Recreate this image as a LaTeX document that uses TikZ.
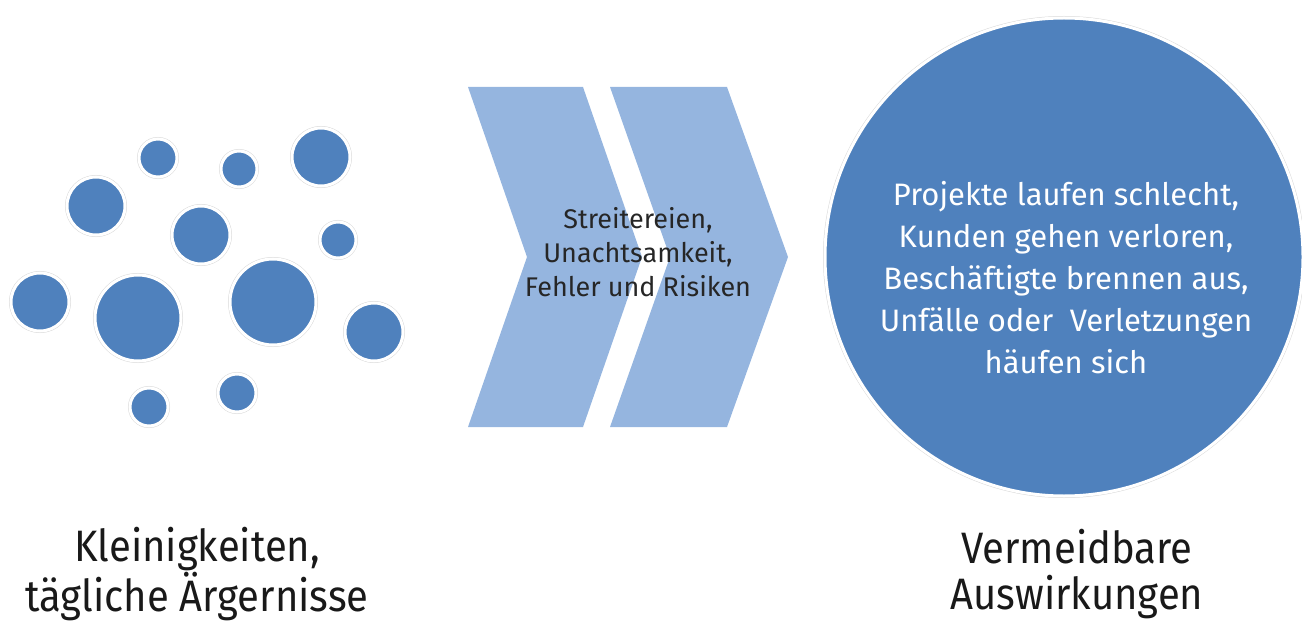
\documentclass[tikz,border=0pt]{standalone}
\usepackage{fontspec}
\setmainfont{Fira Sans}
\newfontfamily\capfont[FakeStretch=0.91]{Fira Sans}
\definecolor{dotblue}{HTML}{4F81BD}
\definecolor{arrowblue}{HTML}{95B5DF}

\begin{document}
\begin{tikzpicture}[x=1pt, y=-1pt,
            every node/.style={inner sep=0pt, text centered}
        ]
        \tikzstyle {bubble} = [circle, fill=dotblue, draw=white, line width=3pt,
            preaction={draw=black!15, line width=4pt}]
        \tikzstyle {chev_text} = [align=center, text=black!85,
            font=\fontsize{27}{34}\selectfont]
        \tikzstyle {big_text} = [align=center, text=white,
            font=\fontsize{31}{42}\selectfont]
        \tikzstyle {caption} = [align=center, text=black!90,
            font=\capfont\fontsize{44}{46}\selectfont]

        \useasboundingbox (0,0) rectangle (1302,623);

        % kleine Kreise
        \node [bubble, minimum size=38] (d1) at (158,158) {};
        \node [bubble, minimum size=36] (d2) at (239,169) {};
        \node [bubble, minimum size=58] (d3) at (321,157) {};
        \node [bubble, minimum size=58] (d4) at (96,206) {};
        \node [bubble, minimum size=58] (d5) at (201,235) {};
        \node [bubble, minimum size=36] (d6) at (338,240) {};
        \node [bubble, minimum size=58] (d7) at (40,302) {};
        \node [bubble, minimum size=86] (d8) at (138,318) {};
        \node [bubble, minimum size=86] (d9) at (273,302) {};
        \node [bubble, minimum size=58] (d10) at (374,332) {};
        \node [bubble, minimum size=38] (d11) at (149,407) {};
        \node [bubble, minimum size=38] (d12) at (237,393) {};

        % Pfeile
        \fill [arrowblue] (468,87) -- (583,87) -- (642,257) -- (583,427)
            -- (468,427) -- (527,257) -- cycle;
        \fill [arrowblue] (610,87) -- (727,87) -- (788,257) -- (727,427)
            -- (610,427) -- (670,257) -- cycle;
        \node [chev_text] (mid) at (638,252)
            {Streitereien,\\Unachtsamkeit,\\Fehler und Risiken};

        % grosser Kreis
        \node [bubble, minimum size=478] (big) at (1064,257) {};
        \node [big_text] (effects) at (1066,278)
            {Projekte laufen schlecht,\\Kunden gehen verloren,\\Besch\"aftigte brennen aus,\\Unf\"alle oder\ \ Verletzungen\\h\"aufen sich};

        \node [caption] (left_cap) at (197,574)
            {Kleinigkeiten,\\t\"agliche \"Argernisse};
        \node [caption] (right_cap) at (1077,574)
            {Vermeidbare\\Auswirkungen};

        \end{tikzpicture}
\end{document}
